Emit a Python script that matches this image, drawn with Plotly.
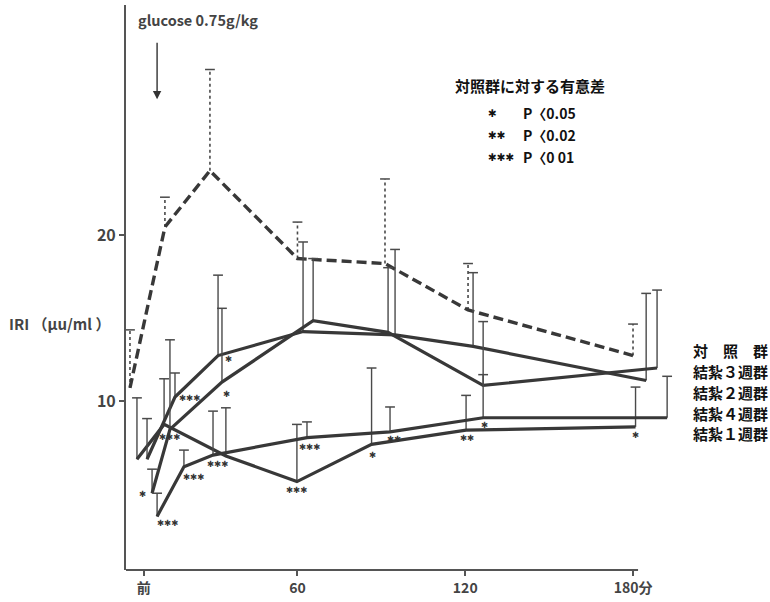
import plotly.graph_objects as go

# ---------------- data ----------------
# time (min, incl. the small horizontal offsets used in the original), mean IRI, SD (upper bar)
ctrl_t = [0.1, 12.6, 28.7, 60.0, 91.3, 121.0, 180.0]
ctrl_v = [10.8, 20.5, 23.9, 18.6, 18.3, 15.5, 12.75]
ctrl_sd = [3.5, 1.8, 6.1, 2.2, 5.1, 2.8, 1.9]

w1_t = [2.6, 12.3, 34.4, 59.8, 86.5, 120.3, 180.9]
w1_v = [6.5, 8.6, 6.7, 5.15, 7.4, 8.25, 8.45]
w1_sd = [3.7, 2.75, 2.9, 3.45, 4.6, 2.1, 2.4]
w1_sig = ["", "✱✱✱", "", "✱✱✱", "✱", "✱✱", "✱"]

w2_t = [6.2, 16.2, 31.6, 62.0, 94.9, 122.8, 184.7]
w2_v = [6.5, 10.25, 12.75, 14.2, 14.0, 13.3, 11.25]
w2_sd = [2.45, 1.45, 4.85, 5.4, 5.15, 4.45, 5.25]
w2_sig = ["", "✱✱✱", "✱", "", "", "", ""]

w3_t = [8.0, 14.4, 33.0, 65.6, 92.4, 126.4, 188.6]
w3_v = [4.45, 8.3, 11.15, 14.85, 14.15, 10.95, 12.0]
w3_sd = [1.45, 5.4, 4.45, 3.75, 3.9, 3.85, 4.7]
w3_sig = ["✱", "", "✱", "", "", "", ""]

w4_t = [9.8, 19.4, 29.8, 63.4, 93.1, 126.4, 192.2]
w4_v = [3.05, 6.05, 6.75, 7.8, 8.15, 9.0, 9.0]
w4_sd = [1.4, 1.0, 2.65, 0.95, 1.5, 2.6, 2.5]
w4_sig = ["✱✱✱", "✱✱✱", "✱✱✱", "✱✱✱", "✱✱", "✱", ""]

x_tickvals = [5, 60, 120, 180]
x_ticktext = ["前", "60", "120", "180分"]
y_tickvals = [10, 20]

group_labels = ["対　照　群", "結紮３週群", "結紮２週群", "結紮４週群", "結紮１週群"]
sig_title = "対照群に対する有意差"
sig_marks = ["✱", "✱✱", "✱✱✱"]
sig_levels = ["P〈0.05", "P〈0.02", "P〈0 01"]

# ---------------- layout geometry ----------------
W, H = 770, 602
ML, MR, MT, MB = 126, 90, 5, 28
PW, PH = W - ML - MR, H - MT - MB
XR = [-1.32, 196.8]
YR = [-0.18, 33.89]

def pxx(px):
    return (px - ML) / PW

def pxy(py):
    return (H - MB - py) / PH

FONT = "Noto Sans CJK JP"
MARKFONT = "DejaVu Sans"
LINE = "#383838"

fig = go.Figure()

series = [
    ("ctrl", ctrl_t, ctrl_v, ctrl_sd, None, True),
    ("w1", w1_t, w1_v, w1_sd, w1_sig, False),
    ("w2", w2_t, w2_v, w2_sd, w2_sig, False),
    ("w3", w3_t, w3_v, w3_sd, w3_sig, False),
    ("w4", w4_t, w4_v, w4_sd, w4_sig, False),
]

for name, t, v, sd, sig, dashed in series:
    sx, sy = [], []
    for ti, vi, si in zip(t, v, sd):
        sx += [ti, ti, None]
        sy += [vi, vi + si, None]
    fig.add_trace(go.Scatter(
        x=sx, y=sy, mode="lines", hoverinfo="skip",
        line=dict(color="#4a4a4a", width=1.4 if not dashed else 1.6,
                  dash="dot" if dashed else "solid")))
    fig.add_trace(go.Scatter(
        x=t, y=[vi + si for vi, si in zip(v, sd)], mode="markers", hoverinfo="skip",
        marker=dict(symbol="line-ew", size=7, line=dict(color="#4a4a4a", width=1.5))))
    fig.add_trace(go.Scatter(
        x=t, y=v, mode="lines", name=name,
        line=dict(color=LINE, width=3.4 if dashed else 3.2,
                  dash="10px,5px" if dashed else "solid")))

# significance mark placement (pixel shifts: right, down)
default_shift = (3, 9)
shift_override = {
    ("w1", 1): (5, 13),
    ("w1", 3): (0, 8),
    ("w1", 4): (1, 11),
    ("w1", 5): (1, 8),
    ("w1", 6): (0, 8),
    ("w2", 1): (15, 1),
    ("w2", 2): (10, 3),
    ("w3", 0): (-10, 1),
    ("w3", 2): (5, 12),
    ("w4", 0): (10, 7),
    ("w4", 1): (10, 10),
    ("w4", 2): (4, 9),
    ("w4", 3): (3, 9),
    ("w4", 4): (4, 7),
    ("w4", 5): (1, 7),
}

annotations = []
for name, t, v, sd, sig, dashed in series:
    if not sig:
        continue
    for i, s in enumerate(sig):
        if not s:
            continue
        dx, dy = shift_override.get((name, i), default_shift)
        annotations.append(dict(
            x=t[i], y=v[i], xref="x", yref="y", text=s, showarrow=False,
            xshift=dx, yshift=-dy, font=dict(family=MARKFONT, size=8.5, color="#333")))

# glucose arrow
annotations.append(dict(
    x=9.8, y=28.2, xref="x", yref="y", ax=0, ay=-58, text="", showarrow=True,
    arrowhead=2, arrowsize=1.2, arrowwidth=1.4, arrowcolor="#333"))
annotations.append(dict(
    x=pxx(136), y=pxy(20), xref="paper", yref="paper", xanchor="left", yanchor="middle",
    text="<b>glucose 0.75g/kg</b>", showarrow=False,
    font=dict(family=FONT, size=14.5, color="#444")))

# y-axis title
annotations.append(dict(
    x=pxx(59), y=pxy(326), xref="paper", yref="paper", xanchor="center", yanchor="middle",
    text="<b>IRI （μu/ml ）</b>", showarrow=False,
    font=dict(family=FONT, size=15, color="#444")))

# significance legend
annotations.append(dict(
    x=pxx(530), y=pxy(86), xref="paper", yref="paper", xanchor="center", yanchor="middle",
    text="<b>" + sig_title + "</b>", showarrow=False,
    font=dict(family=FONT, size=15, color="#111")))
for k, (m, p) in enumerate(zip(sig_marks, sig_levels)):
    yy = [114, 136, 158][k]
    annotations.append(dict(
        x=pxx(486), y=pxy(yy), xref="paper", yref="paper", xanchor="left", yanchor="middle",
        text=m, showarrow=False,
        font=dict(family=MARKFONT, size=10.5, color="#111")))
    annotations.append(dict(
        x=pxx(521), y=pxy(yy), xref="paper", yref="paper", xanchor="left", yanchor="middle",
        text="<b>" + p + "</b>", showarrow=False,
        font=dict(family=FONT, size=14, color="#111")))

# group labels at right
for k, g in enumerate(group_labels):
    yy = 353 + 21 * k
    annotations.append(dict(
        x=pxx(691), y=pxy(yy), xref="paper", yref="paper", xanchor="left", yanchor="middle",
        text="<b>" + g + "</b>", showarrow=False,
        font=dict(family=FONT, size=15, color="#111")))

fig.update_layout(
    width=W, height=H,
    margin=dict(l=ML, r=MR, t=MT, b=MB),
    paper_bgcolor="white", plot_bgcolor="white",
    showlegend=False,
    annotations=annotations,
    shapes=[dict(type="line", xref="x", yref="paper", x0=XR[0], x1=181.8, y0=0, y1=0,
                 line=dict(color="#555", width=2))],
    xaxis=dict(range=XR, tickmode="array", tickvals=x_tickvals, ticktext=x_ticktext,
               ticks="outside", ticklen=5, tickwidth=1.5, tickcolor="#555",
               showline=False, showgrid=False, zeroline=False,
               tickfont=dict(family=FONT, size=14, color="#444", weight="bold")),
    yaxis=dict(range=YR, tickmode="array", tickvals=y_tickvals,
               ticks="outside", ticklen=5, tickwidth=1.5, tickcolor="#555",
               showline=True, linewidth=2, linecolor="#555",
               showgrid=False, zeroline=False,
               tickfont=dict(family=FONT, size=16, color="#444", weight="bold")),
)

fig.write_html("out.html")
